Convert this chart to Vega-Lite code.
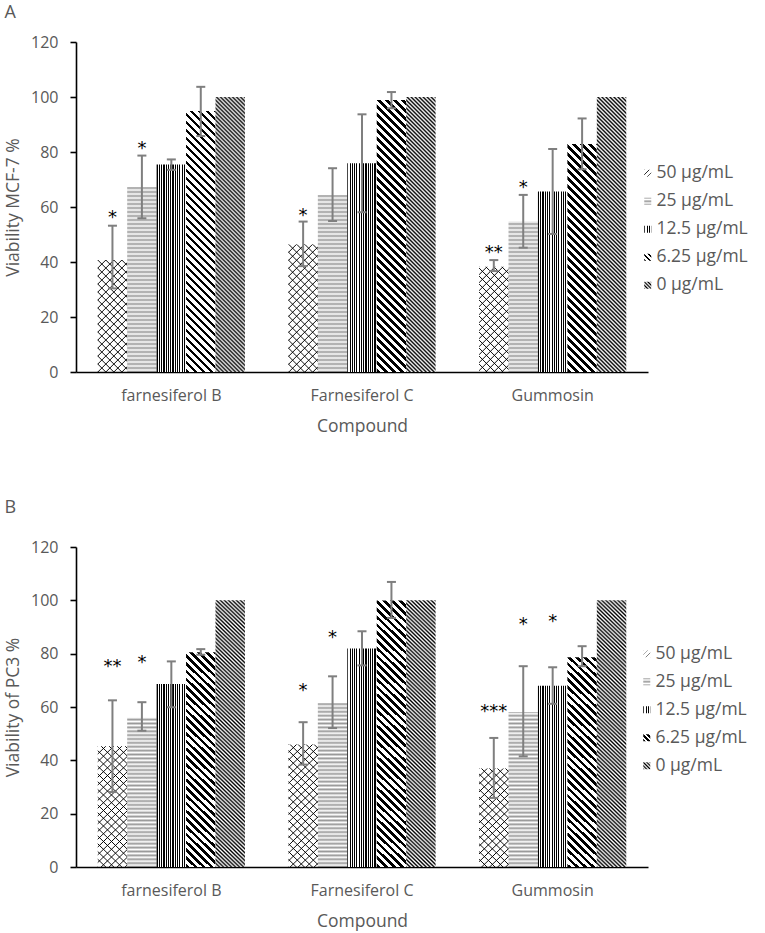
{
  "$schema": "https://vega.github.io/schema/vega-lite/v6.json",
  "padding": {"left": 4, "top": 4, "right": 2, "bottom": 2},
  "background": "white",
  "params": [
    {"name": "sAlt", "value": [
      {"offset":0,"color":"#000"},{"offset":0.00625,"color":"#fff"},{"offset":0.0125,"color":"#000"},{"offset":0.01875,"color":"#fff"},{"offset":0.025,"color":"#000"},{"offset":0.03125,"color":"#fff"},{"offset":0.0375,"color":"#000"},{"offset":0.04375,"color":"#fff"},
      {"offset":0.05,"color":"#000"},{"offset":0.05625,"color":"#fff"},{"offset":0.0625,"color":"#000"},{"offset":0.06875,"color":"#fff"},{"offset":0.075,"color":"#000"},{"offset":0.08125,"color":"#fff"},{"offset":0.0875,"color":"#000"},{"offset":0.09375,"color":"#fff"},
      {"offset":0.1,"color":"#000"},{"offset":0.10625,"color":"#fff"},{"offset":0.1125,"color":"#000"},{"offset":0.11875,"color":"#fff"},{"offset":0.125,"color":"#000"},{"offset":0.13125,"color":"#fff"},{"offset":0.1375,"color":"#000"},{"offset":0.14375,"color":"#fff"},
      {"offset":0.15,"color":"#000"},{"offset":0.15625,"color":"#fff"},{"offset":0.1625,"color":"#000"},{"offset":0.16875,"color":"#fff"},{"offset":0.175,"color":"#000"},{"offset":0.18125,"color":"#fff"},{"offset":0.1875,"color":"#000"},{"offset":0.19375,"color":"#fff"},
      {"offset":0.2,"color":"#000"},{"offset":0.20625,"color":"#fff"},{"offset":0.2125,"color":"#000"},{"offset":0.21875,"color":"#fff"},{"offset":0.225,"color":"#000"},{"offset":0.23125,"color":"#fff"},{"offset":0.2375,"color":"#000"},{"offset":0.24375,"color":"#fff"},
      {"offset":0.25,"color":"#000"},{"offset":0.25625,"color":"#fff"},{"offset":0.2625,"color":"#000"},{"offset":0.26875,"color":"#fff"},{"offset":0.275,"color":"#000"},{"offset":0.28125,"color":"#fff"},{"offset":0.2875,"color":"#000"},{"offset":0.29375,"color":"#fff"},
      {"offset":0.3,"color":"#000"},{"offset":0.30625,"color":"#fff"},{"offset":0.3125,"color":"#000"},{"offset":0.31875,"color":"#fff"},{"offset":0.325,"color":"#000"},{"offset":0.33125,"color":"#fff"},{"offset":0.3375,"color":"#000"},{"offset":0.34375,"color":"#fff"},
      {"offset":0.35,"color":"#000"},{"offset":0.35625,"color":"#fff"},{"offset":0.3625,"color":"#000"},{"offset":0.36875,"color":"#fff"},{"offset":0.375,"color":"#000"},{"offset":0.38125,"color":"#fff"},{"offset":0.3875,"color":"#000"},{"offset":0.39375,"color":"#fff"},
      {"offset":0.4,"color":"#000"},{"offset":0.40625,"color":"#fff"},{"offset":0.4125,"color":"#000"},{"offset":0.41875,"color":"#fff"},{"offset":0.425,"color":"#000"},{"offset":0.43125,"color":"#fff"},{"offset":0.4375,"color":"#000"},{"offset":0.44375,"color":"#fff"},
      {"offset":0.45,"color":"#000"},{"offset":0.45625,"color":"#fff"},{"offset":0.4625,"color":"#000"},{"offset":0.46875,"color":"#fff"},{"offset":0.475,"color":"#000"},{"offset":0.48125,"color":"#fff"},{"offset":0.4875,"color":"#000"},{"offset":0.49375,"color":"#fff"},
      {"offset":0.5,"color":"#000"},{"offset":0.50625,"color":"#fff"},{"offset":0.5125,"color":"#000"},{"offset":0.51875,"color":"#fff"},{"offset":0.525,"color":"#000"},{"offset":0.53125,"color":"#fff"},{"offset":0.5375,"color":"#000"},{"offset":0.54375,"color":"#fff"},
      {"offset":0.55,"color":"#000"},{"offset":0.55625,"color":"#fff"},{"offset":0.5625,"color":"#000"},{"offset":0.56875,"color":"#fff"},{"offset":0.575,"color":"#000"},{"offset":0.58125,"color":"#fff"},{"offset":0.5875,"color":"#000"},{"offset":0.59375,"color":"#fff"},
      {"offset":0.6,"color":"#000"},{"offset":0.60625,"color":"#fff"},{"offset":0.6125,"color":"#000"},{"offset":0.61875,"color":"#fff"},{"offset":0.625,"color":"#000"},{"offset":0.63125,"color":"#fff"},{"offset":0.6375,"color":"#000"},{"offset":0.64375,"color":"#fff"},
      {"offset":0.65,"color":"#000"},{"offset":0.65625,"color":"#fff"},{"offset":0.6625,"color":"#000"},{"offset":0.66875,"color":"#fff"},{"offset":0.675,"color":"#000"},{"offset":0.68125,"color":"#fff"},{"offset":0.6875,"color":"#000"},{"offset":0.69375,"color":"#fff"},
      {"offset":0.7,"color":"#000"},{"offset":0.70625,"color":"#fff"},{"offset":0.7125,"color":"#000"},{"offset":0.71875,"color":"#fff"},{"offset":0.725,"color":"#000"},{"offset":0.73125,"color":"#fff"},{"offset":0.7375,"color":"#000"},{"offset":0.74375,"color":"#fff"},
      {"offset":0.75,"color":"#000"},{"offset":0.75625,"color":"#fff"},{"offset":0.7625,"color":"#000"},{"offset":0.76875,"color":"#fff"},{"offset":0.775,"color":"#000"},{"offset":0.78125,"color":"#fff"},{"offset":0.7875,"color":"#000"},{"offset":0.79375,"color":"#fff"},
      {"offset":0.8,"color":"#000"},{"offset":0.80625,"color":"#fff"},{"offset":0.8125,"color":"#000"},{"offset":0.81875,"color":"#fff"},{"offset":0.825,"color":"#000"},{"offset":0.83125,"color":"#fff"},{"offset":0.8375,"color":"#000"},{"offset":0.84375,"color":"#fff"},
      {"offset":0.85,"color":"#000"},{"offset":0.85625,"color":"#fff"},{"offset":0.8625,"color":"#000"},{"offset":0.86875,"color":"#fff"},{"offset":0.875,"color":"#000"},{"offset":0.88125,"color":"#fff"},{"offset":0.8875,"color":"#000"},{"offset":0.89375,"color":"#fff"},
      {"offset":0.9,"color":"#000"},{"offset":0.90625,"color":"#fff"},{"offset":0.9125,"color":"#000"},{"offset":0.91875,"color":"#fff"},{"offset":0.925,"color":"#000"},{"offset":0.93125,"color":"#fff"},{"offset":0.9375,"color":"#000"},{"offset":0.94375,"color":"#fff"},
      {"offset":0.95,"color":"#000"},{"offset":0.95625,"color":"#fff"},{"offset":0.9625,"color":"#000"},{"offset":0.96875,"color":"#fff"},{"offset":0.975,"color":"#000"},{"offset":0.98125,"color":"#fff"},{"offset":0.9875,"color":"#000"},{"offset":0.99375,"color":"#fff"},
      {"offset":1,"color":"#000"}
    ]},
    {"name": "sWide", "value": [
      {"offset":0,"color":"#000"},{"offset":0.0115,"color":"#000"},{"offset":0.0115,"color":"#fff"},{"offset":0.025,"color":"#fff"},
      {"offset":0.025,"color":"#000"},{"offset":0.0365,"color":"#000"},{"offset":0.0365,"color":"#fff"},{"offset":0.05,"color":"#fff"},
      {"offset":0.05,"color":"#000"},{"offset":0.0615,"color":"#000"},{"offset":0.0615,"color":"#fff"},{"offset":0.075,"color":"#fff"},
      {"offset":0.075,"color":"#000"},{"offset":0.0865,"color":"#000"},{"offset":0.0865,"color":"#fff"},{"offset":0.1,"color":"#fff"},
      {"offset":0.1,"color":"#000"},{"offset":0.1115,"color":"#000"},{"offset":0.1115,"color":"#fff"},{"offset":0.125,"color":"#fff"},
      {"offset":0.125,"color":"#000"},{"offset":0.1365,"color":"#000"},{"offset":0.1365,"color":"#fff"},{"offset":0.15,"color":"#fff"},
      {"offset":0.15,"color":"#000"},{"offset":0.1615,"color":"#000"},{"offset":0.1615,"color":"#fff"},{"offset":0.175,"color":"#fff"},
      {"offset":0.175,"color":"#000"},{"offset":0.1865,"color":"#000"},{"offset":0.1865,"color":"#fff"},{"offset":0.2,"color":"#fff"},
      {"offset":0.2,"color":"#000"},{"offset":0.2115,"color":"#000"},{"offset":0.2115,"color":"#fff"},{"offset":0.225,"color":"#fff"},
      {"offset":0.225,"color":"#000"},{"offset":0.2365,"color":"#000"},{"offset":0.2365,"color":"#fff"},{"offset":0.25,"color":"#fff"},
      {"offset":0.25,"color":"#000"},{"offset":0.2615,"color":"#000"},{"offset":0.2615,"color":"#fff"},{"offset":0.275,"color":"#fff"},
      {"offset":0.275,"color":"#000"},{"offset":0.2865,"color":"#000"},{"offset":0.2865,"color":"#fff"},{"offset":0.3,"color":"#fff"},
      {"offset":0.3,"color":"#000"},{"offset":0.3115,"color":"#000"},{"offset":0.3115,"color":"#fff"},{"offset":0.325,"color":"#fff"},
      {"offset":0.325,"color":"#000"},{"offset":0.3365,"color":"#000"},{"offset":0.3365,"color":"#fff"},{"offset":0.35,"color":"#fff"},
      {"offset":0.35,"color":"#000"},{"offset":0.3615,"color":"#000"},{"offset":0.3615,"color":"#fff"},{"offset":0.375,"color":"#fff"},
      {"offset":0.375,"color":"#000"},{"offset":0.3865,"color":"#000"},{"offset":0.3865,"color":"#fff"},{"offset":0.4,"color":"#fff"},
      {"offset":0.4,"color":"#000"},{"offset":0.4115,"color":"#000"},{"offset":0.4115,"color":"#fff"},{"offset":0.425,"color":"#fff"},
      {"offset":0.425,"color":"#000"},{"offset":0.4365,"color":"#000"},{"offset":0.4365,"color":"#fff"},{"offset":0.45,"color":"#fff"},
      {"offset":0.45,"color":"#000"},{"offset":0.4615,"color":"#000"},{"offset":0.4615,"color":"#fff"},{"offset":0.475,"color":"#fff"},
      {"offset":0.475,"color":"#000"},{"offset":0.4865,"color":"#000"},{"offset":0.4865,"color":"#fff"},{"offset":0.5,"color":"#fff"},
      {"offset":0.5,"color":"#000"},{"offset":0.5115,"color":"#000"},{"offset":0.5115,"color":"#fff"},{"offset":0.525,"color":"#fff"},
      {"offset":0.525,"color":"#000"},{"offset":0.5365,"color":"#000"},{"offset":0.5365,"color":"#fff"},{"offset":0.55,"color":"#fff"},
      {"offset":0.55,"color":"#000"},{"offset":0.5615,"color":"#000"},{"offset":0.5615,"color":"#fff"},{"offset":0.575,"color":"#fff"},
      {"offset":0.575,"color":"#000"},{"offset":0.5865,"color":"#000"},{"offset":0.5865,"color":"#fff"},{"offset":0.6,"color":"#fff"},
      {"offset":0.6,"color":"#000"},{"offset":0.6115,"color":"#000"},{"offset":0.6115,"color":"#fff"},{"offset":0.625,"color":"#fff"},
      {"offset":0.625,"color":"#000"},{"offset":0.6365,"color":"#000"},{"offset":0.6365,"color":"#fff"},{"offset":0.65,"color":"#fff"},
      {"offset":0.65,"color":"#000"},{"offset":0.6615,"color":"#000"},{"offset":0.6615,"color":"#fff"},{"offset":0.675,"color":"#fff"},
      {"offset":0.675,"color":"#000"},{"offset":0.6865,"color":"#000"},{"offset":0.6865,"color":"#fff"},{"offset":0.7,"color":"#fff"},
      {"offset":0.7,"color":"#000"},{"offset":0.7115,"color":"#000"},{"offset":0.7115,"color":"#fff"},{"offset":0.725,"color":"#fff"},
      {"offset":0.725,"color":"#000"},{"offset":0.7365,"color":"#000"},{"offset":0.7365,"color":"#fff"},{"offset":0.75,"color":"#fff"},
      {"offset":0.75,"color":"#000"},{"offset":0.7615,"color":"#000"},{"offset":0.7615,"color":"#fff"},{"offset":0.775,"color":"#fff"},
      {"offset":0.775,"color":"#000"},{"offset":0.7865,"color":"#000"},{"offset":0.7865,"color":"#fff"},{"offset":0.8,"color":"#fff"},
      {"offset":0.8,"color":"#000"},{"offset":0.8115,"color":"#000"},{"offset":0.8115,"color":"#fff"},{"offset":0.825,"color":"#fff"},
      {"offset":0.825,"color":"#000"},{"offset":0.8365,"color":"#000"},{"offset":0.8365,"color":"#fff"},{"offset":0.85,"color":"#fff"},
      {"offset":0.85,"color":"#000"},{"offset":0.8615,"color":"#000"},{"offset":0.8615,"color":"#fff"},{"offset":0.875,"color":"#fff"},
      {"offset":0.875,"color":"#000"},{"offset":0.8865,"color":"#000"},{"offset":0.8865,"color":"#fff"},{"offset":0.9,"color":"#fff"},
      {"offset":0.9,"color":"#000"},{"offset":0.9115,"color":"#000"},{"offset":0.9115,"color":"#fff"},{"offset":0.925,"color":"#fff"},
      {"offset":0.925,"color":"#000"},{"offset":0.9365,"color":"#000"},{"offset":0.9365,"color":"#fff"},{"offset":0.95,"color":"#fff"},
      {"offset":0.95,"color":"#000"},{"offset":0.9615,"color":"#000"},{"offset":0.9615,"color":"#fff"},{"offset":0.975,"color":"#fff"},
      {"offset":0.975,"color":"#000"},{"offset":0.9865,"color":"#000"},{"offset":0.9865,"color":"#fff"},{"offset":1,"color":"#fff"}
    ]},
    {"name": "sVert", "value": [
      {"offset":0,"color":"#000"},{"offset":0.03846,"color":"#000"},{"offset":0.03846,"color":"#fff"},{"offset":0.07692,"color":"#fff"},
      {"offset":0.07692,"color":"#000"},{"offset":0.11538,"color":"#000"},{"offset":0.11538,"color":"#fff"},{"offset":0.15385,"color":"#fff"},
      {"offset":0.15385,"color":"#000"},{"offset":0.19231,"color":"#000"},{"offset":0.19231,"color":"#fff"},{"offset":0.23077,"color":"#fff"},
      {"offset":0.23077,"color":"#000"},{"offset":0.26923,"color":"#000"},{"offset":0.26923,"color":"#fff"},{"offset":0.30769,"color":"#fff"},
      {"offset":0.30769,"color":"#000"},{"offset":0.34615,"color":"#000"},{"offset":0.34615,"color":"#fff"},{"offset":0.38462,"color":"#fff"},
      {"offset":0.38462,"color":"#000"},{"offset":0.42308,"color":"#000"},{"offset":0.42308,"color":"#fff"},{"offset":0.46154,"color":"#fff"},
      {"offset":0.46154,"color":"#000"},{"offset":0.5,"color":"#000"},{"offset":0.5,"color":"#fff"},{"offset":0.53846,"color":"#fff"},
      {"offset":0.53846,"color":"#000"},{"offset":0.57692,"color":"#000"},{"offset":0.57692,"color":"#fff"},{"offset":0.61538,"color":"#fff"},
      {"offset":0.61538,"color":"#000"},{"offset":0.65385,"color":"#000"},{"offset":0.65385,"color":"#fff"},{"offset":0.69231,"color":"#fff"},
      {"offset":0.69231,"color":"#000"},{"offset":0.73077,"color":"#000"},{"offset":0.73077,"color":"#fff"},{"offset":0.76923,"color":"#fff"},
      {"offset":0.76923,"color":"#000"},{"offset":0.80769,"color":"#000"},{"offset":0.80769,"color":"#fff"},{"offset":0.84615,"color":"#fff"},
      {"offset":0.84615,"color":"#000"},{"offset":0.88462,"color":"#000"},{"offset":0.88462,"color":"#fff"},{"offset":0.92308,"color":"#fff"},
      {"offset":0.92308,"color":"#000"},{"offset":0.96154,"color":"#000"},{"offset":0.96154,"color":"#fff"},{"offset":1,"color":"#fff"}
    ]},
    {"name": "sThin", "value": [
      {"offset":0,"color":"#000"},{"offset":0.003,"color":"rgba(0,0,0,0)"},{"offset":0.022,"color":"rgba(0,0,0,0)"},
      {"offset":0.025,"color":"#000"},{"offset":0.028,"color":"rgba(0,0,0,0)"},{"offset":0.047,"color":"rgba(0,0,0,0)"},
      {"offset":0.05,"color":"#000"},{"offset":0.053,"color":"rgba(0,0,0,0)"},{"offset":0.072,"color":"rgba(0,0,0,0)"},
      {"offset":0.075,"color":"#000"},{"offset":0.078,"color":"rgba(0,0,0,0)"},{"offset":0.097,"color":"rgba(0,0,0,0)"},
      {"offset":0.1,"color":"#000"},{"offset":0.103,"color":"rgba(0,0,0,0)"},{"offset":0.122,"color":"rgba(0,0,0,0)"},
      {"offset":0.125,"color":"#000"},{"offset":0.128,"color":"rgba(0,0,0,0)"},{"offset":0.147,"color":"rgba(0,0,0,0)"},
      {"offset":0.15,"color":"#000"},{"offset":0.153,"color":"rgba(0,0,0,0)"},{"offset":0.172,"color":"rgba(0,0,0,0)"},
      {"offset":0.175,"color":"#000"},{"offset":0.178,"color":"rgba(0,0,0,0)"},{"offset":0.197,"color":"rgba(0,0,0,0)"},
      {"offset":0.2,"color":"#000"},{"offset":0.203,"color":"rgba(0,0,0,0)"},{"offset":0.222,"color":"rgba(0,0,0,0)"},
      {"offset":0.225,"color":"#000"},{"offset":0.228,"color":"rgba(0,0,0,0)"},{"offset":0.247,"color":"rgba(0,0,0,0)"},
      {"offset":0.25,"color":"#000"},{"offset":0.253,"color":"rgba(0,0,0,0)"},{"offset":0.272,"color":"rgba(0,0,0,0)"},
      {"offset":0.275,"color":"#000"},{"offset":0.278,"color":"rgba(0,0,0,0)"},{"offset":0.297,"color":"rgba(0,0,0,0)"},
      {"offset":0.3,"color":"#000"},{"offset":0.303,"color":"rgba(0,0,0,0)"},{"offset":0.322,"color":"rgba(0,0,0,0)"},
      {"offset":0.325,"color":"#000"},{"offset":0.328,"color":"rgba(0,0,0,0)"},{"offset":0.347,"color":"rgba(0,0,0,0)"},
      {"offset":0.35,"color":"#000"},{"offset":0.353,"color":"rgba(0,0,0,0)"},{"offset":0.372,"color":"rgba(0,0,0,0)"},
      {"offset":0.375,"color":"#000"},{"offset":0.378,"color":"rgba(0,0,0,0)"},{"offset":0.397,"color":"rgba(0,0,0,0)"},
      {"offset":0.4,"color":"#000"},{"offset":0.403,"color":"rgba(0,0,0,0)"},{"offset":0.422,"color":"rgba(0,0,0,0)"},
      {"offset":0.425,"color":"#000"},{"offset":0.428,"color":"rgba(0,0,0,0)"},{"offset":0.447,"color":"rgba(0,0,0,0)"},
      {"offset":0.45,"color":"#000"},{"offset":0.453,"color":"rgba(0,0,0,0)"},{"offset":0.472,"color":"rgba(0,0,0,0)"},
      {"offset":0.475,"color":"#000"},{"offset":0.478,"color":"rgba(0,0,0,0)"},{"offset":0.497,"color":"rgba(0,0,0,0)"},
      {"offset":0.5,"color":"#000"},{"offset":0.503,"color":"rgba(0,0,0,0)"},{"offset":0.522,"color":"rgba(0,0,0,0)"},
      {"offset":0.525,"color":"#000"},{"offset":0.528,"color":"rgba(0,0,0,0)"},{"offset":0.547,"color":"rgba(0,0,0,0)"}
    ]}
  ],
  "datasets": {
    "A": [
      {"compound":"farnesiferol B","conc":"50 µg/mL","mean":40.7,"lo":30.4,"hi":53.2,"sig":"*","sigY":57.8},
      {"compound":"farnesiferol B","conc":"25 µg/mL","mean":67.3,"lo":55.9,"hi":78.7,"sig":"*","sigY":82.9},
      {"compound":"farnesiferol B","conc":"12.5 µg/mL","mean":75.5,"lo":73.5,"hi":77.3,"sig":null,"sigY":null},
      {"compound":"farnesiferol B","conc":"6.25 µg/mL","mean":94.9,"lo":85.8,"hi":103.7,"sig":null,"sigY":null},
      {"compound":"farnesiferol B","conc":"0 µg/mL","mean":100,"lo":null,"hi":null,"sig":null,"sigY":null},
      {"compound":"Farnesiferol C","conc":"50 µg/mL","mean":46.4,"lo":38.5,"hi":54.7,"sig":"*","sigY":58.5},
      {"compound":"Farnesiferol C","conc":"25 µg/mL","mean":64.4,"lo":54.9,"hi":74.1,"sig":null,"sigY":null},
      {"compound":"Farnesiferol C","conc":"12.5 µg/mL","mean":75.9,"lo":58.1,"hi":93.7,"sig":null,"sigY":null},
      {"compound":"Farnesiferol C","conc":"6.25 µg/mL","mean":98.9,"lo":95.9,"hi":101.8,"sig":null,"sigY":null},
      {"compound":"Farnesiferol C","conc":"0 µg/mL","mean":100,"lo":null,"hi":null,"sig":null,"sigY":null},
      {"compound":"Gummosin","conc":"50 µg/mL","mean":38.3,"lo":36.7,"hi":40.7,"sig":"**","sigY":45},
      {"compound":"Gummosin","conc":"25 µg/mL","mean":54.7,"lo":45.2,"hi":64.4,"sig":"*","sigY":68.8},
      {"compound":"Gummosin","conc":"12.5 µg/mL","mean":65.6,"lo":50.2,"hi":81.1,"sig":null,"sigY":null},
      {"compound":"Gummosin","conc":"6.25 µg/mL","mean":82.9,"lo":73.7,"hi":92.2,"sig":null,"sigY":null},
      {"compound":"Gummosin","conc":"0 µg/mL","mean":100,"lo":null,"hi":null,"sig":null,"sigY":null}
    ],
    "B": [
      {"compound":"farnesiferol B","conc":"50 µg/mL","mean":45.3,"lo":28.1,"hi":62.5,"sig":"**","sigY":76.7},
      {"compound":"farnesiferol B","conc":"25 µg/mL","mean":56.1,"lo":51.1,"hi":61.8,"sig":"*","sigY":78.4},
      {"compound":"farnesiferol B","conc":"12.5 µg/mL","mean":68.6,"lo":59.9,"hi":77.1,"sig":null,"sigY":null},
      {"compound":"farnesiferol B","conc":"6.25 µg/mL","mean":80.5,"lo":79.6,"hi":81.7,"sig":null,"sigY":null},
      {"compound":"farnesiferol B","conc":"0 µg/mL","mean":100,"lo":null,"hi":null,"sig":null,"sigY":null},
      {"compound":"Farnesiferol C","conc":"50 µg/mL","mean":45.9,"lo":38.4,"hi":54.3,"sig":"*","sigY":67.8},
      {"compound":"Farnesiferol C","conc":"25 µg/mL","mean":61.5,"lo":52.1,"hi":71.5,"sig":"*","sigY":87.7},
      {"compound":"Farnesiferol C","conc":"12.5 µg/mL","mean":81.9,"lo":75.6,"hi":88.4,"sig":null,"sigY":null},
      {"compound":"Farnesiferol C","conc":"6.25 µg/mL","mean":99.9,"lo":93.4,"hi":106.9,"sig":null,"sigY":null},
      {"compound":"Farnesiferol C","conc":"0 µg/mL","mean":100,"lo":null,"hi":null,"sig":null,"sigY":null},
      {"compound":"Gummosin","conc":"50 µg/mL","mean":36.9,"lo":25.9,"hi":48.4,"sig":"***","sigY":59.9},
      {"compound":"Gummosin","conc":"25 µg/mL","mean":58.1,"lo":41.5,"hi":75.3,"sig":"*","sigY":92.5},
      {"compound":"Gummosin","conc":"12.5 µg/mL","mean":68,"lo":61.2,"hi":74.9,"sig":"*","sigY":93.6},
      {"compound":"Gummosin","conc":"6.25 µg/mL","mean":78.7,"lo":75.3,"hi":82.8,"sig":null,"sigY":null},
      {"compound":"Gummosin","conc":"0 µg/mL","mean":100,"lo":null,"hi":null,"sig":null,"sigY":null}
    ]
  },
  "spacing": 64,
  "resolve": {"scale": {"fill": "independent"}, "legend": {"fill": "independent"}},
  "vconcat": [
    {
      "title": {"text": "A", "offset": 12},
      "width": 572,
      "height": 330,
      "data": {"name": "A"},
      "encoding": {
        "x": {"field": "compound", "type": "nominal", "scale": {"domain": ["farnesiferol B", "Farnesiferol C", "Gummosin"], "paddingInner": 0.228, "paddingOuter": 0.114}, "axis": {"title": "Compound", "labelAngle": 0, "ticks": false, "labelPadding": 15, "titlePadding": 14}},
        "xOffset": {"field": "conc", "type": "nominal", "scale": {"domain": ["50 µg/mL", "25 µg/mL", "12.5 µg/mL", "6.25 µg/mL", "0 µg/mL"], "paddingInner": 0, "paddingOuter": 0}}
      },
      "layer": [
        {"mark": {"type": "bar", "fill": {"expr": "datum.conc === '12.5 µg/mL' ? {gradient: 'linear', x1: 0, y1: 0, x2: 1, y2: 0, stops: sVert} : datum.conc === '25 µg/mL' ? {gradient: 'linear', x1: 0, y1: 1, x2: 0, y2: 1 - 320 / (datum.mean * 2.75), stops: sAlt} : datum.conc === '50 µg/mL' ? {gradient: 'linear', x1: 0, y1: 0, x2: 9408 / (864.36 + pow(datum.mean * 2.75, 2)), y2: 880 * datum.mean / (864.36 + pow(datum.mean * 2.75, 2)), stops: sThin} : {gradient: 'linear', x1: 0, y1: 1, x2: 9408 / (864.36 + pow(datum.mean * 2.75, 2)), y2: 1 - 880 * datum.mean / (864.36 + pow(datum.mean * 2.75, 2)), stops: datum.conc === '6.25 µg/mL' ? sWide : sAlt}"}, "fillOpacity": {"expr": "datum.conc === '25 µg/mL' ? 0.4 : 1"}, "strokeWidth": 0},
         "encoding": {"y": {"field": "mean", "type": "quantitative", "scale": {"domain": [0, 120]}, "axis": {"title": "Viability MCF-7 %", "values": [0, 20, 40, 60, 80, 100, 120], "tickSize": 6, "labelPadding": 12, "titlePadding": 8}}}},
        {"transform": [{"filter": "datum.conc === '50 µg/mL'"}],
         "mark": {"type": "bar", "fill": {"expr": "{gradient: 'linear', x1: 0, y1: 1, x2: 9408 / (864.36 + pow(datum.mean * 2.75, 2)), y2: 1 - 880 * datum.mean / (864.36 + pow(datum.mean * 2.75, 2)), stops: sThin}"}, "strokeWidth": 0},
         "encoding": {"y": {"field": "mean", "type": "quantitative"}}},
        {"mark": {"type": "bar", "opacity": 0},
         "encoding": {"y": {"field": "mean", "type": "quantitative"},
           "fill": {"field": "conc", "type": "nominal",
             "scale": {"domain": ["50 µg/mL", "25 µg/mL", "12.5 µg/mL", "6.25 µg/mL", "0 µg/mL"],
               "range": [
                 {"expr": "{gradient: 'linear', x1: 0, y1: 0, x2: 14, y2: 14, stops: sThin}"},
                 {"expr": "{gradient: 'linear', x1: 0, y1: 0, x2: 0, y2: 1, stops: [{offset: 0, color: '#999'}, {offset: 0.25, color: '#fff'}, {offset: 0.5, color: '#999'}, {offset: 0.75, color: '#fff'}, {offset: 1, color: '#999'}]}"},
                 {"expr": "{gradient: 'linear', x1: 0, y1: 0, x2: 4.3, y2: 0, stops: sVert}"},
                 {"expr": "{gradient: 'linear', x1: 0, y1: 1, x2: 14, y2: -13, stops: sWide}"},
                 {"expr": "{gradient: 'linear', x1: 0, y1: 1, x2: 20, y2: -19, stops: sAlt}"}
               ]},
             "legend": {"title": null, "orient": "none", "legendX": 563, "legendY": 122.5}}}},
        {"transform": [{"filter": "datum.lo != null"}],
         "mark": {"type": "rule", "color": "#7f7f7f", "strokeWidth": 2},
         "encoding": {"y": {"field": "lo", "type": "quantitative"}, "y2": {"field": "hi"}}},
        {"transform": [{"filter": "datum.lo != null"}],
         "mark": {"type": "tick", "color": "#7f7f7f", "thickness": 2, "size": 9, "opacity": 1},
         "encoding": {"y": {"field": "lo", "type": "quantitative"}}},
        {"transform": [{"filter": "datum.hi != null"}],
         "mark": {"type": "tick", "color": "#7f7f7f", "thickness": 2, "size": 9, "opacity": 1},
         "encoding": {"y": {"field": "hi", "type": "quantitative"}}},
        {"transform": [{"filter": "datum.sig != null"}],
         "mark": {"type": "text", "font": "DejaVu Sans", "fontSize": 18, "color": "#000", "baseline": "alphabetic", "dy": 10},
         "encoding": {"y": {"field": "sigY", "type": "quantitative"}, "text": {"field": "sig"}}}
      ]
    },
    {
      "title": {"text": "B", "offset": 22},
      "width": 572,
      "height": 320,
      "data": {"name": "B"},
      "encoding": {
        "x": {"field": "compound", "type": "nominal", "scale": {"domain": ["farnesiferol B", "Farnesiferol C", "Gummosin"], "paddingInner": 0.228, "paddingOuter": 0.114}, "axis": {"title": "Compound", "labelAngle": 0, "ticks": false, "labelPadding": 15, "titlePadding": 14}},
        "xOffset": {"field": "conc", "type": "nominal", "scale": {"domain": ["50 µg/mL", "25 µg/mL", "12.5 µg/mL", "6.25 µg/mL", "0 µg/mL"], "paddingInner": 0, "paddingOuter": 0}}
      },
      "layer": [
        {"mark": {"type": "bar", "fill": {"expr": "datum.conc === '12.5 µg/mL' ? {gradient: 'linear', x1: 0, y1: 0, x2: 1, y2: 0, stops: sVert} : datum.conc === '25 µg/mL' ? {gradient: 'linear', x1: 0, y1: 1, x2: 0, y2: 1 - 320 / (datum.mean * 2.75), stops: sAlt} : datum.conc === '50 µg/mL' ? {gradient: 'linear', x1: 0, y1: 0, x2: 9408 / (864.36 + pow(datum.mean * 2.75, 2)), y2: 880 * datum.mean / (864.36 + pow(datum.mean * 2.75, 2)), stops: sThin} : {gradient: 'linear', x1: 0, y1: 1, x2: 9408 / (864.36 + pow(datum.mean * 2.75, 2)), y2: 1 - 880 * datum.mean / (864.36 + pow(datum.mean * 2.75, 2)), stops: datum.conc === '6.25 µg/mL' ? sWide : sAlt}"}, "fillOpacity": {"expr": "datum.conc === '25 µg/mL' ? 0.4 : 1"}, "strokeWidth": 0},
         "encoding": {"y": {"field": "mean", "type": "quantitative", "scale": {"domain": [0, 120]}, "axis": {"title": "Viability of PC3 %", "values": [0, 20, 40, 60, 80, 100, 120], "tickSize": 6, "labelPadding": 12, "titlePadding": 8}}}},
        {"transform": [{"filter": "datum.conc === '50 µg/mL'"}],
         "mark": {"type": "bar", "fill": {"expr": "{gradient: 'linear', x1: 0, y1: 1, x2: 9408 / (864.36 + pow(datum.mean * 2.75, 2)), y2: 1 - 880 * datum.mean / (864.36 + pow(datum.mean * 2.75, 2)), stops: sThin}"}, "strokeWidth": 0},
         "encoding": {"y": {"field": "mean", "type": "quantitative"}}},
        {"mark": {"type": "bar", "opacity": 0},
         "encoding": {"y": {"field": "mean", "type": "quantitative"},
           "fill": {"field": "conc", "type": "nominal",
             "scale": {"domain": ["50 µg/mL", "25 µg/mL", "12.5 µg/mL", "6.25 µg/mL", "0 µg/mL"],
               "range": [
                 {"expr": "{gradient: 'linear', x1: 0, y1: 0, x2: 14, y2: 14, stops: sThin}"},
                 {"expr": "{gradient: 'linear', x1: 0, y1: 0, x2: 0, y2: 1, stops: [{offset: 0, color: '#999'}, {offset: 0.25, color: '#fff'}, {offset: 0.5, color: '#999'}, {offset: 0.75, color: '#fff'}, {offset: 1, color: '#999'}]}"},
                 {"expr": "{gradient: 'linear', x1: 0, y1: 0, x2: 4.3, y2: 0, stops: sVert}"},
                 {"expr": "{gradient: 'linear', x1: 0, y1: 1, x2: 14, y2: -13, stops: sWide}"},
                 {"expr": "{gradient: 'linear', x1: 0, y1: 1, x2: 20, y2: -19, stops: sAlt}"}
               ]},
             "legend": {"title": null, "orient": "none", "legendX": 562, "legendY": 98}}}},
        {"transform": [{"filter": "datum.lo != null"}],
         "mark": {"type": "rule", "color": "#7f7f7f", "strokeWidth": 2},
         "encoding": {"y": {"field": "lo", "type": "quantitative"}, "y2": {"field": "hi"}}},
        {"transform": [{"filter": "datum.lo != null"}],
         "mark": {"type": "tick", "color": "#7f7f7f", "thickness": 2, "size": 9, "opacity": 1},
         "encoding": {"y": {"field": "lo", "type": "quantitative"}}},
        {"transform": [{"filter": "datum.hi != null"}],
         "mark": {"type": "tick", "color": "#7f7f7f", "thickness": 2, "size": 9, "opacity": 1},
         "encoding": {"y": {"field": "hi", "type": "quantitative"}}},
        {"transform": [{"filter": "datum.sig != null"}],
         "mark": {"type": "text", "font": "DejaVu Sans", "fontSize": 18, "color": "#000", "baseline": "alphabetic", "dy": 10},
         "encoding": {"y": {"field": "sigY", "type": "quantitative"}, "text": {"field": "sig"}}}
      ]
    }
  ],
  "config": {
    "font": "Open Sans",
    "view": {"stroke": null},
    "axis": {"labelFont": "Open Sans", "titleFont": "Open Sans", "labelColor": "#595959", "titleColor": "#595959", "titleFontWeight": "normal", "labelFontSize": 16, "titleFontSize": 17.5, "grid": false, "domainColor": "#000", "tickColor": "#000", "domainWidth": 1.6, "tickWidth": 1.6},
    "legend": {"labelFont": "Open Sans", "labelFontSize": 17.5, "labelColor": "#595959", "symbolType": "square", "symbolSize": 49, "symbolStrokeWidth": 0, "rowPadding": 9, "padding": 0, "labelOffset": 0},
    "title": {"font": "Open Sans", "fontSize": 18, "fontWeight": "normal", "color": "#595959", "anchor": "start", "frame": "bounds"}
  }
}
